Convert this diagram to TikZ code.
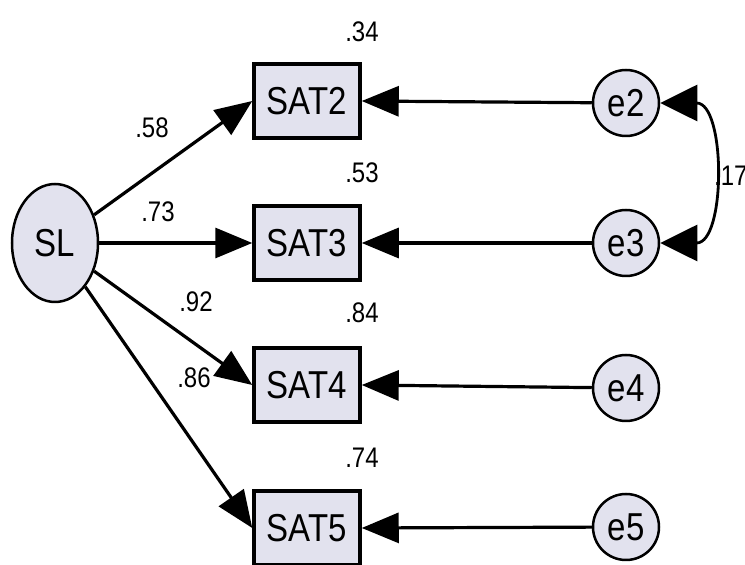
\documentclass[tikz,border=0pt]{standalone}
\usepackage{fontspec}
\setmainfont{Liberation Sans}
\usepackage{tikz}
\usetikzlibrary{shapes.geometric, arrows.meta}

\definecolor{nodefill}{RGB}{226,226,238}
\newcommand{\vlbl}[1]{\scalebox{1}[1.18]{#1}}

\begin{document}
\begin{tikzpicture}[x=1pt, y=1pt,
		obs/.style={draw, line width=3.5pt, fill=nodefill, minimum width=106pt, minimum height=74pt, inner sep=0pt, font=\fontsize{33}{33}\selectfont},
		lat/.style={draw, ellipse, line width=2.5pt, fill=nodefill, minimum width=86pt, minimum height=118pt, inner sep=0pt, font=\fontsize{33}{33}\selectfont},
		err/.style={draw, circle, line width=2.5pt, fill=nodefill, minimum size=66pt, inner sep=0pt, font=\fontsize{33}{33}\selectfont},
		est/.style={font=\fontsize{24}{24}\selectfont, inner sep=0pt},
		pth/.style={line width=3.2pt, -{Triangle[length=37pt, width=30pt]}},
		cov/.style={line width=2.8pt, {Triangle[length=37pt, width=36pt]}-{Triangle[length=37pt, width=36pt]}}]
	\useasboundingbox (0,0) rectangle (745,565);

	% latent variable
	\node [lat] (SL) at (55,322) {\vlbl{SL}};

	% observed variables
	\node [obs] (SAT2) at (307,464) {\vlbl{SAT2}};
	\node [obs] (SAT3) at (307,322) {\vlbl{SAT3}};
	\node [obs] (SAT4) at (307,180) {\vlbl{SAT4}};
	\node [obs] (SAT5) at (307,37) {\vlbl{SAT5}};

	% error terms
	\node [err] (e2) at (626,462) {\vlbl{e2}};
	\node [err] (e3) at (626,322) {\vlbl{e3}};
	\node [err] (e4) at (626,177) {\vlbl{e4}};
	\node [err] (e5) at (626,38) {\vlbl{e5}};

	% loadings
	\draw [pth] (SL) -- (SAT2.west);
	\draw [pth] (SL) -- (SAT3.west);
	\draw [pth] (SL) -- (SAT4.west);
	\draw [pth] (SL) -- (SAT5.west);

	\draw [pth] (e2) -- (SAT2.east);
	\draw [pth] (e3) -- (SAT3.east);
	\draw [pth] (e4) -- (SAT4.east);
	\draw [pth] (e5) -- (SAT5.east);

	\draw [cov] (e2.east) .. controls (726,462) and (726,322) .. (e3.east);

	% estimates
	\node [est] (r2) at (362,533) {\vlbl{.34}};
	\node [est] (r3) at (362,392) {\vlbl{.53}};
	\node [est] (r4) at (362,252) {\vlbl{.84}};
	\node [est] (r5) at (362,107) {\vlbl{.74}};

	\node [est] (l2) at (152,437) {\vlbl{.58}};
	\node [est] (l3) at (158,353) {\vlbl{.73}};
	\node [est] (l4) at (196,263) {\vlbl{.92}};
	\node [est] (l5) at (194,187) {\vlbl{.86}};

	\node [est, anchor=west] (c23) at (714,389) {\vlbl{.17}};
\end{tikzpicture}
\end{document}
